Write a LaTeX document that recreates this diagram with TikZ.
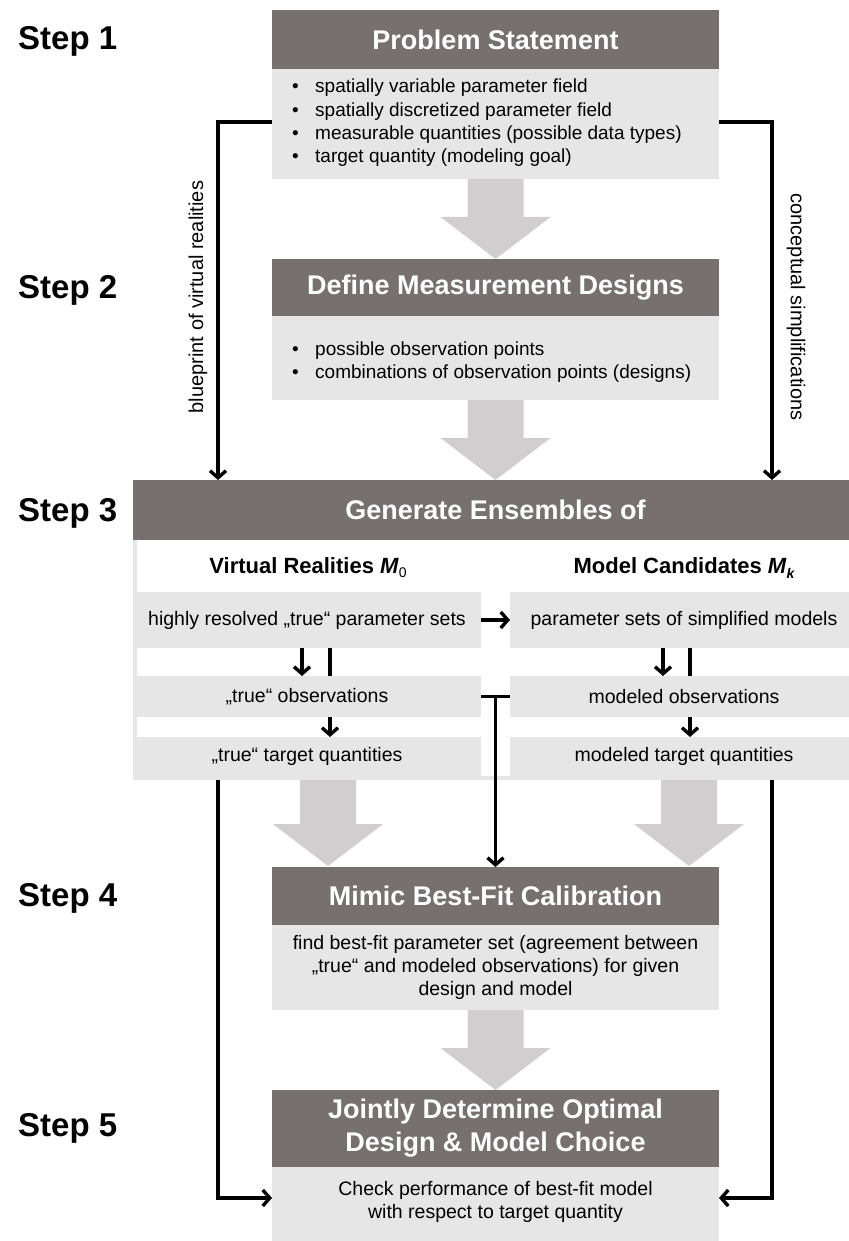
\documentclass[tikz,border=0pt]{standalone}
\usepackage{fontspec}
\setmainfont{Liberation Sans}
\usetikzlibrary{arrows.meta,calc}
\definecolor{hdr}{RGB}{118,112,112}
\definecolor{bodyc}{RGB}{231,230,230}
\definecolor{bigarr}{RGB}{208,206,206}
\newcommand{\bitem}[1]{\makebox[23pt][l]{\textbullet}#1}
\newcommand{\fs}[2]{\fontsize{#1}{#2}\selectfont}
\newcommand{\bigarrow}[2]{\fill[bigarr] ($(#1)+(-28,0)$) -- ($(#2)+(-28,-42)$) -- ($(#2)+(-55,-42)$) -- (#2) -- ($(#2)+(55,-42)$) -- ($(#2)+(28,-42)$) -- ($(#1)+(28,0)$) -- cycle;}
\begin{document}
\begin{tikzpicture}[x=1pt,y=-1pt,
  hdrbox/.style={fill=hdr, text=white, font=\fs{27}{33}\bfseries, align=center, inner sep=0pt, outer sep=0pt},
  bodybox/.style={fill=bodyc, inner sep=0pt, outer sep=0pt},
  rowbox/.style={fill=bodyc, inner sep=0pt, outer sep=0pt, font=\fs{19.5}{23}, align=center},
  conn/.style={line width=3.4pt, -{Straight Barb[length=7pt,width=16pt]}},
  plain/.style={line width=3.4pt},
  steplbl/.style={font=\fs{33}{40}\bfseries, anchor=west, inner sep=0pt},
  bullets/.style={font=\fs{19}{23.3}, anchor=west, align=left, inner sep=0pt},
  sidelbl/.style={font=\fs{20}{24}, inner sep=0pt},
  colhdr/.style={font=\fs{22}{26}\bfseries, inner sep=0pt}]

\useasboundingbox (0,0) rectangle (848,1241);

% step labels
\node[steplbl] (s1) at (18,41) {Step 1};
\node[steplbl] (s2) at (18,290) {Step 2};
\node[steplbl] (s3) at (18,513) {Step 3};
\node[steplbl] (s4) at (18,898) {Step 4};
\node[steplbl] (s5) at (18,1128) {Step 5};

% Box 1
\node[hdrbox, minimum width=447pt, minimum height=59pt] (h1) at (495.5,39.5) {Problem Statement};
\node[bodybox, minimum width=447pt, minimum height=110pt] (b1) at (495.5,124) {};
\node[bullets] (b1t) at (292,123) {\bitem{spatially variable parameter field}\\
\bitem{spatially discretized parameter field}\\
\bitem{measurable quantities (possible data types)}\\
\bitem{target quantity (modeling goal)}};

% Box 2
\node[hdrbox, minimum width=447pt, minimum height=57pt] (h2) at (495.5,287.5) {Define Measurement Designs};
\node[bodybox, minimum width=447pt, minimum height=84pt] (b2) at (495.5,358) {};
\node[bullets] (b2t) at (292,362) {\bitem{possible observation points}\\
\bitem{combinations of observation points (designs)}};

\bigarrow{b1.south}{h2.north}

% Box 3
\node[hdrbox, minimum width=725pt, minimum height=60pt] (h3) at (495.5,510) {Generate Ensembles of};
\bigarrow{b2.south}{h3.north}
\fill[bodyc] (133,540) rectangle (137,780);
\fill[bodyc] (133,776) rectangle (858,780);
\node[colhdr] (cL) at (308,568) {Virtual Realities \textit{M}\raisebox{-0.35ex}{\fs{14}{14}\mdseries 0}};
\node[colhdr] (cR) at (684,568) {Model Candidates \textit{M}\raisebox{-0.35ex}{\fs{14}{14}\itshape k}};

\node[rowbox, minimum width=348pt, minimum height=56pt] (r1L) at (307,620) {highly resolved „true“ parameter sets};
\node[rowbox, minimum width=348pt, minimum height=56pt] (r1R) at (684,620) {parameter sets of simplified models};
\node[rowbox, minimum width=348pt, minimum height=39pt] (r3L) at (307,756.5) {„true“ target quantities};
\node[rowbox, minimum width=348pt, minimum height=39pt] (r3R) at (684,756.5) {modeled target quantities};

\draw[conn] ($(r1L.south)+(23,0)$) -- ($(r3L.north)+(23,0)$);
\draw[conn] ($(r1R.south)+(6,0)$) -- ($(r3R.north)+(6,0)$);

\node[rowbox, minimum width=348pt, minimum height=41pt] (r2L) at (307,696.5) {„true“ observations};
\node[rowbox, minimum width=348pt, minimum height=41pt] (r2R) at (684,696.5) {modeled observations};

\draw[conn] (r1L.east) -- (r1R.west);
\draw[conn] ($(r1L.south)+(-5,0)$) -- ($(r2L.north)+(-5,0)$);
\draw[conn] ($(r1R.south)+(-21,0)$) -- ($(r2R.north)+(-21,0)$);

% Box 4
\node[hdrbox, minimum width=447pt, minimum height=58pt] (h4) at (495.5,896) {Mimic Best-Fit Calibration};
\node[bodybox, minimum width=447pt, minimum height=85pt] (b4) at (495.5,967.5) {};
\node[font=\fs{19.5}{23}, align=center, inner sep=0pt] (b4t) at (495.5,967) {find best-fit parameter set (agreement between\\„true“ and modeled observations) for given\\design and model};

\coordinate (aLt) at (328,780);
\coordinate (aLb) at (328,866);
\coordinate (aRt) at (689,780);
\coordinate (aRb) at (689,866);
\bigarrow{aLt}{aLb}
\bigarrow{aRt}{aRb}

% T connector
\draw[plain] (r2L.east) -- (r2R.west);
\coordinate (tm) at ($(r2L.east)!0.5!(r2R.west)$);
\draw[conn] (tm) -- (tm |- h4.north);

% Box 5
\node[hdrbox, minimum width=447pt, minimum height=77pt] (h5) at (495.5,1128.5) {Jointly Determine Optimal\\Design \& Model Choice};
\node[bodybox, minimum width=447pt, minimum height=74pt] (b5) at (495.5,1204) {};
\node[font=\fs{19.5}{23}, align=center, inner sep=0pt] (b5t) at (495.5,1201.5) {Check performance of best-fit model\\with respect to target quantity};
\bigarrow{b4.south}{h5.north}

% side connectors
\coordinate (bl) at (218,122);
\coordinate (cr) at (772,122);
\draw[conn] ($(b1.west)+(0,-2)$) -- (bl) -- (bl |- h3.north);
\draw[conn] ($(b1.east)+(0,-2)$) -- (cr) -- (cr |- h3.north);
\node[sidelbl, rotate=90] (lblL) at (198,297) {blueprint of virtual realities};
\node[sidelbl, rotate=-90] (lblR) at (796,307) {conceptual simplifications};

\coordinate (bl2) at (218,780);
\coordinate (cr2) at (772,780);
\draw[conn] (bl2) -- ($(bl2 |- b5.west)+(0,-6)$) -- ($(b5.west)+(0,-6)$);
\draw[conn] (cr2) -- ($(cr2 |- b5.east)+(0,-6)$) -- ($(b5.east)+(0,-6)$);
\end{tikzpicture}
\end{document}
